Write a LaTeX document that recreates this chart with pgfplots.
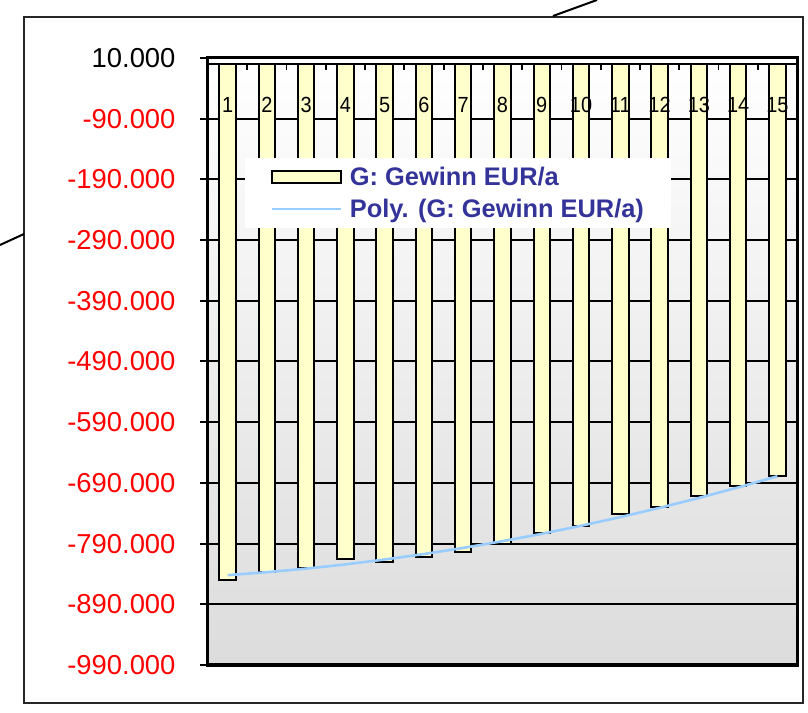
\documentclass[border=0pt]{standalone}
\usepackage{pgfplots}
\pgfplotsset{compat=1.18}
\usepackage{fontspec}
\setmainfont{Liberation Sans}
\definecolor{barfill}{HTML}{FFFFCC}
\definecolor{legtext}{HTML}{333399}
\definecolor{trend}{HTML}{99CCFF}
\definecolor{bggray}{HTML}{DCDCDC}

% G: Gewinn EUR/a per Jahr
\pgfplotstableread{
jahr gewinn
1  -850000
2  -837000
3  -830000
4  -815000
5  -820000
6  -812000
7  -804000
8  -791000
9  -772000
10 -761000
11 -741000
12 -730000
13 -712000
14 -695000
15 -679000
}\gewinn

\begin{document}
\begin{tikzpicture}
\useasboundingbox (-208bp,-48bp) rectangle (600bp,665bp);
\draw[line width=2.2bp, black!85] (-184bp,-38bp) rectangle (595bp,648bp);
\draw[line width=2bp] (345bp,649bp) -- (389bp,665bp);
\draw[line width=2bp] (-208bp,420bp) -- (-184bp,431bp);
\begin{axis}[
  scale only axis, width=589bp, height=607bp,
  xmin=0.5, xmax=15.5, ymin=-990000, ymax=10000,
  axis background/.style={shade, top color=white, bottom color=bggray},
  axis line style={line width=3bp},
  xtick=\empty,
  ytick={-990000,-890000,-790000,-690000,-590000,-490000,-390000,-290000,-190000,-90000,10000},
  yticklabels={-990.000,-890.000,-790.000,-690.000,-590.000,-490.000,-390.000,-290.000,-190.000,-90.000,\textcolor{black}{10.000}},
  scaled y ticks=false,
  ytick pos=left, tick align=outside, major tick length=8bp,
  ytick style={line width=2bp, black},
  yticklabel style={red, font=\fontsize{27.5}{30}\selectfont, anchor=east, xshift=-21bp},
  ymajorgrids, major grid style={line width=2bp, black},
  legend style={at={(0.063,0.835)}, anchor=north west, draw=none, fill=white,
    font=\fontsize{25.5}{28}\selectfont\bfseries, text=legtext,
    inner xsep=25bp, inner ysep=7bp, row sep=8bp, cells={anchor=west},
    /tikz/every odd column/.style={column sep=6bp}},
]
\addplot[ybar, bar width=0.42, fill=barfill, draw=black, line width=2bp,
  legend image code/.code={\draw[fill=barfill, draw=black, line width=2bp] (0bp,-6bp) rectangle (69bp,6bp);}]
  table[x=jahr, y=gewinn] {\gewinn};
\addlegendentry{G: Gewinn EUR/a}
\addplot[sharp plot, trend, line width=2.6bp, no marks,
  legend image code/.code={\draw[trend, line width=2.6bp] (0bp,0bp) -- (69bp,0bp);}]
  coordinates {
  (1,-842000) (2,-837100) (3,-831200) (4,-824300) (5,-816200)
  (6,-807200) (7,-797100) (8,-786000) (9,-773900) (10,-760600)
  (11,-746400) (12,-731100) (13,-714800) (14,-697500) (15,-679000)
  };
\addlegendentry{Poly. (G: Gewinn EUR/a)}
\draw[line width=1.8bp] (axis cs:0.5,0) -- (axis cs:15.5,0);
\pgfplotsinvokeforeach{1,...,14}{\draw[line width=1.8bp] (axis cs:#1.5,0) -- ++(0bp,-6bp);}
\pgfplotsinvokeforeach{1,...,15}{\node[font=\fontsize{20}{20}\selectfont, yscale=1.1] at (axis cs:#1,-67000) {#1};}
\end{axis}
\end{tikzpicture}
\end{document}
